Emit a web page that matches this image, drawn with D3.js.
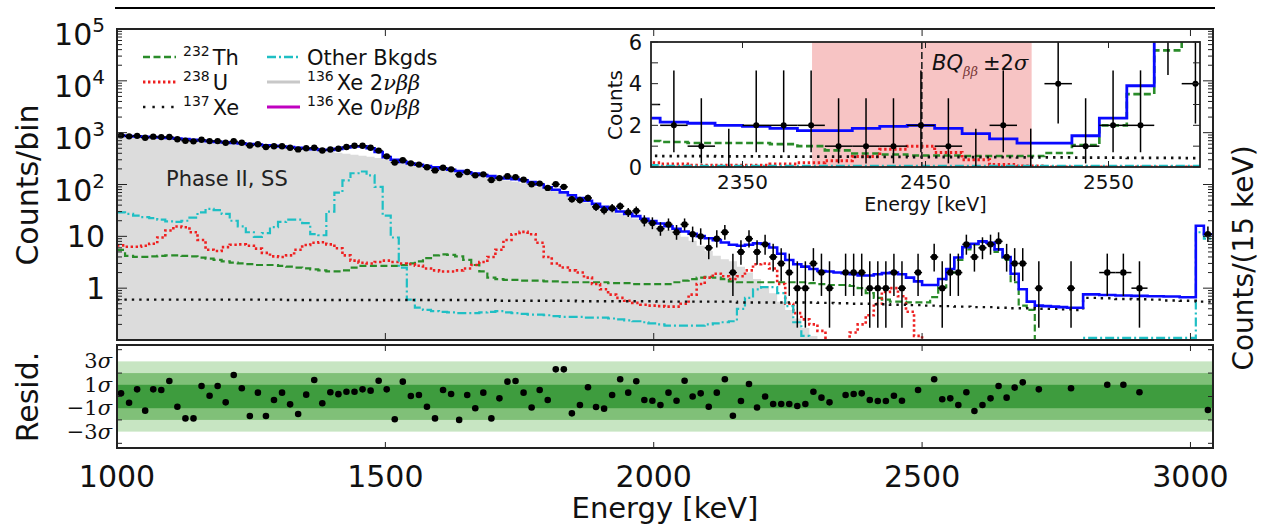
<!DOCTYPE html>
<html>
<head>
<meta charset="utf-8">
<script src="https://cdn.jsdelivr.net/npm/d3@7"></script>
<style>
  body { margin: 0; background: #fff; }
  svg { font-family: "DejaVu Sans", sans-serif; }
</style>
</head>
<body>
<div id="chart"></div>
<script>
// binning: 15 keV up to 2800, 30 keV up to 3010, then the last two 15 keV bins
var binSegments = [[1000, 2800, 15], [2800, 3010, 30], [3010, 3040, 15]];

// fitted total (blue), per bin
var totalFit = [880, 865, 850, 835, 820, 805, 790, 770, 750, 730,
  705, 685, 665, 650, 635, 620, 605, 590, 570, 555,
  540, 525, 510, 495, 480, 465, 464, 487, 519, 548,
  544, 500, 423, 338, 300, 273, 255, 240, 228, 214,
  203, 193, 182, 172, 163, 153, 145, 135, 131, 126,
  120.5, 111, 100, 88, 79, 70.6, 62, 55, 48.7, 42.3,
  37, 33.8, 30.2, 27.1, 24.5, 21.9, 19.7, 17.7, 15.7, 14.0,
  12.4, 11.2, 10.1, 9.2, 8.45, 7.6, 6.9, 6.6, 6.9, 7.3,
  7.1, 6.1, 4.6, 3.5, 2.9, 2.6, 2.35, 2.15, 2.1, 2.0,
  1.95, 1.85, 1.75, 1.75, 1.85, 1.95, 2.0, 1.85, 1.6, 1.35,
  1.15, 1.15, 1.5, 2.35, 3.9, 6.2, 7.2, 8.0, 7.5, 5.6,
  4.0, 1.9, 0.95, 0.55, 0.46, 0.45, 0.44, 0.43, 0.42, 0.42,
  0.76, 0.74, 0.72, 0.71, 0.70, 0.69, 0.67,
  16, 11];

// 136Xe 2vbb (grey fill)
var xe2nu = [838, 827, 814, 800, 786, 770, 753, 731, 711, 691,
  663, 641, 624, 613, 605, 594, 583, 571, 550, 533,
  514, 496, 480, 467, 455, 440, 424, 408, 392, 376,
  360, 344, 326, 306, 284, 264, 248, 234, 221, 207,
  196, 186, 176, 166, 157, 148, 139, 127, 120, 113,
  106, 98, 90, 82, 74, 66, 58, 51, 45, 39,
  34, 31, 27.5, 24.5, 22, 19.5, 17.3, 15.3, 13.3, 11.5,
  9.8, 8.2, 6.6, 5.2, 4.2, 3.6, 3.3, 2.6, 2.0, 1.5,
  1.1, 0.8, 0.55, 0.38, 0.26, 0.17, 0.12, 0.08, 0, 0,
  0, 0, 0, 0, 0, 0, 0, 0, 0, 0,
  0, 0, 0, 0, 0, 0, 0, 0, 0, 0,
  0, 0, 0, 0, 0, 0, 0, 0, 0, 0,
  0, 0, 0, 0, 0, 0, 0,
  0, 0];

var th232 = [5.5, 4.2, 4.0, 4.0, 4.1, 4.2, 4.3, 4.3, 4.2, 4.1,
  3.9, 3.7, 3.5, 3.3, 3.1, 3.0, 2.9, 2.8, 2.8, 2.8,
  2.7, 2.6, 2.5, 2.4, 2.3, 2.2, 2.1, 2.1, 2.2, 2.5,
  2.7, 2.7, 2.7, 2.7, 2.7, 2.8, 3.0, 3.3, 3.8, 4.3,
  4.5, 4.4, 4.1, 3.5, 2.8, 2.1, 1.6, 1.5, 1.45, 1.45,
  1.4, 1.4, 1.4, 1.35, 1.35, 1.3, 1.3, 1.3, 1.3, 1.3,
  1.3, 1.25, 1.25, 1.25, 1.2, 1.2, 1.2, 1.2, 1.2, 1.3,
  1.4, 1.5, 1.6, 1.65, 1.6, 1.5, 1.35, 1.3, 1.3, 1.3,
  1.3, 1.3, 1.3, 1.3, 1.3, 1.3, 1.25, 1.2, 1.15, 1.15,
  1.15, 1.1, 1.0, 0.8, 0.65, 0.6, 0.55, 0.55, 0.53, 0.53,
  0.53, 0.67, 1.05, 2.0, 3.5, 5.6, 7.0, 7.8, 7.2, 5.0,
  3.5, 1.3, 0.46, 0.38, 0, 0, 0, 0, 0, 0,
  0, 0, 0, 0, 0, 0, 0,
  0, 0];

var u238 = [6.7, 6.3, 6.3, 6.6, 7.2, 9.5, 13, 15.5, 15, 12,
  8.5, 5.5, 5.2, 6.2, 6.9, 7.0, 6.6, 5.8, 4.8, 4.1,
  4.0, 4.3, 5.5, 6.8, 7.5, 7.7, 7.0, 5.9, 4.3, 3.4,
  3.1, 3.0, 3.2, 3.4, 3.2, 3.0, 2.9, 2.7, 2.4, 2.2,
  2.1, 2.1, 2.2, 2.4, 2.8, 3.2, 4.0, 5.5, 8.5, 11,
  12.2, 11, 7.5, 4.0, 3.0, 2.5, 2.2, 2.0, 1.6, 1.2,
  0.95, 0.75, 0.65, 0.57, 0.52, 0.48, 0.46, 0.45, 0.44, 0.44,
  0.5, 0.75, 1.2, 1.6, 1.9, 1.7, 1.5, 1.7, 2.2, 2.9,
  3.0, 2.4, 1.2, 0.5, 0.33, 0.25, 0.2, 0.15, 0.09, 0.08,
  0.09, 0.14, 0.2, 0.3, 0.5, 0.85, 1.0, 0.7, 0.35, 0.12,
  0.05, 0, 0, 0, 0, 0, 0, 0, 0, 0,
  0, 0, 0, 0, 0, 0, 0, 0, 0, 0,
  0, 0, 0, 0, 0, 0, 0,
  0, 0];

var otherBkg = [29, 27, 25, 23.5, 22.5, 21, 19.5, 19, 20, 23,
  29, 34, 32, 27, 20, 15.5, 12, 9.8, 11.5, 15,
  19, 21, 21, 18, 11, 10.5, 30, 70, 120, 165,
  178, 150, 90, 25, 9.5, 2.5, 0.6, 0.42, 0.38, 0.36,
  0.35, 0.34, 0.33, 0.33, 0.33, 0.34, 0.35, 0.36, 0.34, 0.33,
  0.32, 0.31, 0.31, 0.3, 0.29, 0.28, 0.28, 0.28, 0.27, 0.27,
  0.27, 0.26, 0.25, 0.24, 0.23, 0.22, 0.21, 0.2, 0.19, 0.19,
  0.19, 0.19, 0.19, 0.2, 0.21, 0.22, 0.23, 0.4, 0.65, 0.95,
  1.05, 1.05, 0.8, 0.45, 0.22, 0.12, 0.08, 0.05, 0.04, 0.04,
  0.04, 0.04, 0.04, 0.04, 0.04, 0.04, 0.04, 0.04, 0.04, 0.04,
  0.04, 0.04, 0.04, 0.04, 0.04, 0.04, 0.04, 0.04, 0.04, 0.04,
  0.04, 0.04, 0.04, 0.04, 0.04, 0.04, 0.04, 0.04, 0.04, 0.04,
  0.11, 0.11, 0.11, 0.11, 0.11, 0.11, 0.11,
  12, 9];

var xe137 = [0.6, 0.6, 0.6, 0.6, 0.6, 0.6, 0.6, 0.6, 0.6, 0.6,
  0.6, 0.6, 0.6, 0.6, 0.6, 0.6, 0.6, 0.6, 0.6, 0.6,
  0.6, 0.59, 0.59, 0.59, 0.59, 0.59, 0.59, 0.59, 0.59, 0.59,
  0.59, 0.59, 0.59, 0.59, 0.59, 0.59, 0.59, 0.59, 0.59, 0.59,
  0.59, 0.59, 0.59, 0.59, 0.59, 0.59, 0.59, 0.57, 0.57, 0.57,
  0.57, 0.57, 0.57, 0.57, 0.57, 0.57, 0.57, 0.56, 0.56, 0.56,
  0.56, 0.56, 0.56, 0.56, 0.56, 0.56, 0.56, 0.55, 0.55, 0.55,
  0.55, 0.55, 0.55, 0.55, 0.55, 0.55, 0.55, 0.53, 0.53, 0.53,
  0.53, 0.53, 0.53, 0.53, 0.53, 0.53, 0.53, 0.52, 0.52, 0.51,
  0.51, 0.5, 0.5, 0.5, 0.49, 0.49, 0.48, 0.48, 0.47, 0.47,
  0.46, 0.46, 0.45, 0.45, 0.44, 0.44, 0.43, 0.43, 0.43, 0.42,
  0.42, 0.41, 0.41, 0.41, 0.40, 0.40, 0.40, 0.39, 0.39, 0.38,
  0.65, 0.64, 0.62, 0.61, 0.6, 0.58, 0.57,
  0.55, 0.55];

// observed counts per bin (0 = empty bin)
var dataCounts = [888, 849, 868, 800, 837, 821, 827, 746, 699, 680,
  729, 687, 688, 637, 681, 637, 564, 598, 530, 548,
  548, 510, 476, 499, 511, 452, 472, 491, 528, 558,
  558, 511, 451, 349, 266, 294, 256, 242, 215, 187,
  211, 196, 155, 174, 150, 157, 122, 133, 145, 139,
  124, 101, 104, 86, 101, 90, 52, 50, 55, 37,
  32, 35, 38, 29, 31, 20, 18, 14, 17, 12,
  17, 11, 10, 6, 9, 12, 2, 5, 9, 5,
  7, 4, 3, 2, 1, 1, 3, 2, 1, 0,
  2, 2, 2, 1, 1, 1, 2, 1, 0, 2,
  0, 4, 1, 2, 2, 7, 4, 6, 7, 8,
  4, 3, 3, 0, 1, 0, 0, 0, 1, 0,
  0, 2, 2, 1, 0, 0, 0,
  0, 11];

// residuals in sigma (null = no point shown)
var residuals = [0.27, -0.53, 0.61, -1.21, 0.61, 0.56, 1.32, -0.87, -1.87, -1.87,
  0.9, 0.07, 0.9, -0.5, 1.84, 0.7, -1.67, 0.33, -1.67, -0.3,
  0.33, -0.67, -1.5, 0.16, 1.41, -0.58, 0.36, 0.2, 0.41, 0.41,
  0.61, 0.5, 1.35, 0.61, -1.95, 1.27, 0.04, 0.13, -0.87, -1.87,
  0.56, 0.22, -2.0, 0.13, -1.0, 0.33, -1.87, -0.16, 1.27, 1.32,
  0.33, -0.94, 0.56, -0.3, 2.32, 2.32, -1.44, -0.73, 0.79, -0.9,
  -1.04, 0.13, 1.47, 0.33, 1.3, -0.3, -0.36, -0.73, 0.33, -0.36,
  1.35, 0, 0.27, -0.87, 0.33, 1.47, -1.64, -0.39, 1.07, -0.94,
  0, -0.64, -0.64, -0.64, -0.81, -0.64, 0.41, -0.1, -0.5, null,
  0.13, 0.22, 0.27, -0.3, -0.39, -0.39, 0.07, -0.36, null, 0.56,
  null, 1.47, -0.24, -0.16, -0.73, 0.36, -1.24, -0.73, -0.16, 0.9,
  -0.1, 0.76, 1.21, null, 0.61, null, null, null, 0.7, null,
  null, 1.0, 1.0, 0.36, null, null, null,
  null, -1.15];

// Garwood 68% intervals for small counts
var garwoodLo = [0, 0.173, 0.708, 1.367, 2.086, 2.840, 3.620, 4.419, 5.232, 6.057, 6.891, 7.734, 8.585];
var garwoodHi = [1.841, 3.300, 4.638, 5.918, 7.163, 8.382, 9.584, 10.77, 11.95, 13.11, 14.27, 15.42, 16.56];

var xTicks = [1000, 1500, 2000, 2500, 3000];
var yDecades = [1, 10, 100, 1000, 10000, 100000];
var insetXTicks = [2350, 2450, 2550];
var insetYTicks = [0, 2, 4, 6];
var residLabels = [3, 1, -1, -3];
var qbb = 2448, qbbWindow = 60;

var bins = [];
binSegments.forEach(function (s) {
  for (var e = s[0]; e < s[1]; e += s[2]) bins.push({ lo: e, hi: e + s[2], mid: e + s[2] / 2 });
});

function errLo(n) { return n < garwoodLo.length ? garwoodLo[n] : n - Math.sqrt(n); }
function errHi(n) { return n < garwoodHi.length ? garwoodHi[n] : n + Math.sqrt(n) + 1; }

var W = 1264, H = 527;
var L = 117, R = 1213, T = 29, B = 340;
var rT = 345, rB = 448;
var iL = 651, iR = 1200, iT = 42, iB = 167;

var colTh = "#2a8c2a", colU = "#ee2020", colOther = "#1fbfc4", colXe = "#111",
    colFit = "#0a0aff", colGrey = "#dcdcdc", col0nu = "#c000c0";

var svg = d3.select("#chart").append("svg").attr("width", W).attr("height", H);

var x = d3.scaleLinear().domain([1000, 3042]).range([L, R]);
var y = d3.scaleLog().domain([0.1, 1e5]).range([B, T]);
var yr = d3.scaleLinear().domain([-4.4, 4.4]).range([rB, rT]);
var xi = d3.scaleLinear().domain([2300, 2600]).range([iL, iR]);
var yi = d3.scaleLinear().domain([0, 6]).range([iB, iT]);

var defs = svg.append("defs");
defs.append("clipPath").attr("id", "clipMain").append("rect").attr("x", L).attr("y", T).attr("width", R - L).attr("height", B - T);
defs.append("clipPath").attr("id", "clipRes").append("rect").attr("x", L).attr("y", rT).attr("width", R - L).attr("height", rB - rT);
defs.append("clipPath").attr("id", "clipInset").append("rect").attr("x", iL).attr("y", iT).attr("width", iR - iL).attr("height", iB - iT);

// line across the top of the figure
svg.append("line").attr("x1", 115).attr("x2", 1215).attr("y1", 8).attr("y2", 8)
  .attr("stroke", "#000").attr("stroke-width", 2);

function stepPoints(arr, sub) {
  var pts = sub.map(function (i) { return { e: bins[i].lo, v: arr[i] }; });
  var last = sub[sub.length - 1];
  pts.push({ e: bins[last].hi, v: arr[last] });
  return pts;
}
var allIdx = d3.range(bins.length);
function yLog(v) { return Math.min(v > 0 ? y(v) : B + 40, B + 40); }

// ---------- main panel ----------
var main = svg.append("g").attr("clip-path", "url(#clipMain)");

main.append("path")
  .datum(stepPoints(xe2nu, allIdx))
  .attr("fill", colGrey)
  .attr("d", d3.area().curve(d3.curveStepAfter)
    .x(function (d) { return x(d.e); })
    .y0(B)
    .y1(function (d) { return Math.min(yLog(d.v), B); }));

var comps = [
  { arr: th232, color: colTh, dash: "7,3.5", w: 2.2 },
  { arr: u238, color: colU, dash: "2.4,2.6", w: 2.6 },
  { arr: otherBkg, color: colOther, dash: "9,3,2,3", w: 2.2 },
  { arr: xe137, color: colXe, dash: "2.4,5", w: 2.4 }
];
var stepLine = d3.line().curve(d3.curveStepAfter)
  .x(function (d) { return x(d.e); })
  .y(function (d) { return yLog(d.v); });

comps.forEach(function (c) {
  main.append("path").datum(stepPoints(c.arr, allIdx))
    .attr("fill", "none").attr("stroke", c.color).attr("stroke-width", c.w)
    .attr("stroke-dasharray", c.dash).attr("d", stepLine);
});

main.append("path").datum(stepPoints(totalFit, allIdx))
  .attr("fill", "none").attr("stroke", colFit).attr("stroke-width", 2.6).attr("d", stepLine);

// data points
var pts = allIdx.filter(function (i) { return dataCounts[i] > 0; });
var pg = main.append("g");
pts.forEach(function (i) {
  var n = dataCounts[i], b = bins[i];
  pg.append("line").attr("x1", x(b.mid)).attr("x2", x(b.mid))
    .attr("y1", yLog(errHi(n))).attr("y2", yLog(errLo(n)))
    .attr("stroke", "#000").attr("stroke-width", 1.5);
  pg.append("line").attr("x1", x(b.lo)).attr("x2", x(b.hi))
    .attr("y1", y(n)).attr("y2", y(n))
    .attr("stroke", "#000").attr("stroke-width", 1.5);
  pg.append("circle").attr("cx", x(b.mid)).attr("cy", y(n)).attr("r", 3.2).attr("fill", "#000");
});

// frame + ticks for main
svg.append("rect").attr("x", L).attr("y", T).attr("width", R - L).attr("height", B - T)
  .attr("fill", "none").attr("stroke", "#222").attr("stroke-width", 2);

var tk = svg.append("g").attr("stroke", "#222").attr("stroke-width", 1);
xTicks.forEach(function (t) {
  tk.append("line").attr("x1", x(t)).attr("x2", x(t)).attr("y1", B).attr("y2", B - 7);
  tk.append("line").attr("x1", x(t)).attr("x2", x(t)).attr("y1", T).attr("y2", T + 7);
});
y.ticks().forEach(function (t) {
  var major = yDecades.indexOf(t) >= 0 || t === 0.1;
  var len = major ? 10 : 5;
  tk.append("line").attr("x1", L).attr("x2", L + len).attr("y1", y(t)).attr("y2", y(t));
  tk.append("line").attr("x1", R).attr("x2", R - len).attr("y1", y(t)).attr("y2", y(t));
});

// y tick labels
yDecades.forEach(function (t) {
  var p = Math.round(Math.log10(t));
  var txt = svg.append("text").attr("x", 105).attr("text-anchor", "end")
    .attr("font-size", 30).attr("fill", "#111");
  if (p <= 1) {
    txt.attr("y", y(t) + 11).text(p === 0 ? "1" : "10");
  } else {
    txt.attr("y", y(t) + 16);
    txt.append("tspan").text("10");
    txt.append("tspan").attr("font-size", 20).attr("dy", -13).text(p);
  }
});

svg.append("text").attr("transform", "translate(38,185) rotate(-90)")
  .attr("text-anchor", "middle").attr("font-size", 30).attr("fill", "#111").text("Counts/bin");
svg.append("text").attr("transform", "translate(1253,258) rotate(-90)")
  .attr("text-anchor", "middle").attr("font-size", 28).attr("fill", "#111").text("Counts/(15 keV)");

svg.append("text").attr("x", 166).attr("y", 186).attr("font-size", 21).attr("fill", "#222").text("Phase II, SS");

// legend
var legend = svg.append("g");
var legItems = [
  { col: 0, row: 0, color: colTh, dash: "7,3.5", w: 2.4, iso: "232", name: "Th" },
  { col: 0, row: 1, color: colU, dash: "2.4,2.6", w: 2.8, iso: "238", name: "U" },
  { col: 0, row: 2, color: colXe, dash: "2.4,7", w: 2.6, iso: "137", name: "Xe" },
  { col: 1, row: 0, color: colOther, dash: "9,3,2,3", w: 2.4, iso: null, name: "Other Bkgds" },
  { col: 1, row: 1, color: "#c8c8c8", dash: null, w: 3, iso: "136", name: "Xe 2", greek: "νββ" },
  { col: 1, row: 2, color: col0nu, dash: null, w: 3, iso: "136", name: "Xe 0", greek: "νββ" }
];
legItems.forEach(function (d) {
  var lx = d.col === 0 ? 143 : 267, ly = 57 + d.row * 25;
  legend.append("line").attr("x1", lx).attr("x2", lx + 33).attr("y1", ly).attr("y2", ly)
    .attr("stroke", d.color).attr("stroke-width", d.w).attr("stroke-dasharray", d.dash);
  var t = legend.append("text").attr("x", lx + 40).attr("y", ly + 8).attr("font-size", 21).attr("fill", "#111");
  if (d.iso) {
    t.append("tspan").attr("font-size", 14).attr("dy", -9).text(d.iso);
    t.append("tspan").attr("dy", 9).attr("dx", 3).text(d.name);
  } else {
    t.append("tspan").text(d.name);
  }
  if (d.greek) {
    t.append("tspan").attr("font-family", "DejaVu Serif").attr("font-style", "italic").text(d.greek);
  }
});

// ---------- residual panel ----------
var bands = [[3, "#c7e5c2"], [2, "#80c078"], [1, "#3e9c3e"]];
var res = svg.append("g").attr("clip-path", "url(#clipRes)");
bands.forEach(function (b) {
  res.append("rect").attr("x", L).attr("width", R - L)
    .attr("y", yr(b[0])).attr("height", yr(-b[0]) - yr(b[0])).attr("fill", b[1]);
});
allIdx.forEach(function (i) {
  if (residuals[i] === null) return;
  res.append("circle").attr("cx", x(bins[i].mid)).attr("cy", yr(residuals[i])).attr("r", 3.3).attr("fill", "#000");
});
svg.append("rect").attr("x", L).attr("y", rT).attr("width", R - L).attr("height", rB - rT)
  .attr("fill", "none").attr("stroke", "#222").attr("stroke-width", 2);
xTicks.forEach(function (t) {
  tk.append("line").attr("x1", x(t)).attr("x2", x(t)).attr("y1", rB).attr("y2", rB - 6);
  tk.append("line").attr("x1", x(t)).attr("x2", x(t)).attr("y1", rT).attr("y2", rT + 6);
});
[-4, -2, 0, 2, 4].forEach(function (t) {
  tk.append("line").attr("x1", L).attr("x2", L + 5).attr("y1", yr(t)).attr("y2", yr(t));
  tk.append("line").attr("x1", R).attr("x2", R - 5).attr("y1", yr(t)).attr("y2", yr(t));
});
residLabels.forEach(function (t) {
  var txt = svg.append("text").attr("x", 112).attr("y", yr(t) + 7).attr("text-anchor", "end")
    .attr("font-family", "DejaVu Serif").attr("font-size", 21).attr("fill", "#111");
  txt.append("tspan").text((t < 0 ? "\u2212" : "") + Math.abs(t));
  txt.append("tspan").attr("font-style", "italic").text("σ");
});
svg.append("text").attr("transform", "translate(38,397) rotate(-90)")
  .attr("text-anchor", "middle").attr("font-size", 30).attr("fill", "#111").text("Resid.");

xTicks.forEach(function (t) {
  svg.append("text").attr("x", x(t)).attr("y", 487).attr("text-anchor", "middle")
    .attr("font-size", 30).attr("fill", "#111").text(t);
});
svg.append("text").attr("x", (L + R) / 2).attr("y", 518).attr("text-anchor", "middle")
  .attr("font-size", 29).attr("fill", "#111").text("Energy [keV]");

// ---------- inset ----------
svg.append("rect").attr("x", iL).attr("y", iT).attr("width", iR - iL).attr("height", iB - iT).attr("fill", "#fff");
var ins = svg.append("g").attr("clip-path", "url(#clipInset)");
ins.append("rect").attr("x", xi(qbb - qbbWindow)).attr("width", xi(qbb + qbbWindow) - xi(qbb - qbbWindow))
  .attr("y", iT).attr("height", iB - iT).attr("fill", "#f7c4c4");

var inIdx = allIdx.filter(function (i) { return bins[i].hi > 2300 && bins[i].lo < 2600; });
ins.append("path").datum(stepPoints(xe2nu, inIdx)).attr("fill", colGrey)
  .attr("d", d3.area().curve(d3.curveStepAfter)
    .x(function (d) { return xi(d.e); }).y0(iB).y1(function (d) { return yi(d.v); }));
var stepIn = d3.line().curve(d3.curveStepAfter)
  .x(function (d) { return xi(d.e); })
  .y(function (d) { return yi(d.v); });
comps.forEach(function (c) {
  ins.append("path").datum(stepPoints(c.arr, inIdx))
    .attr("fill", "none").attr("stroke", c.color).attr("stroke-width", c.w + 0.4)
    .attr("stroke-dasharray", c.dash).attr("d", stepIn);
});
ins.append("path").datum(stepPoints(totalFit, inIdx))
  .attr("fill", "none").attr("stroke", colFit).attr("stroke-width", 2.8).attr("d", stepIn);
ins.append("line").attr("x1", xi(qbb)).attr("x2", xi(qbb)).attr("y1", iT).attr("y2", iB)
  .attr("stroke", "#222").attr("stroke-width", 1.6).attr("stroke-dasharray", "7,3");

inIdx.forEach(function (i) {
  var n = dataCounts[i], b = bins[i];
  ins.append("line").attr("x1", xi(b.mid)).attr("x2", xi(b.mid))
    .attr("y1", yi(errHi(n))).attr("y2", yi(errLo(n))).attr("stroke", "#000").attr("stroke-width", 1.5);
  if (n > 0) {
    ins.append("line").attr("x1", xi(b.lo)).attr("x2", xi(b.hi)).attr("y1", yi(n)).attr("y2", yi(n))
      .attr("stroke", "#000").attr("stroke-width", 1.5);
    ins.append("circle").attr("cx", xi(b.mid)).attr("cy", yi(n)).attr("r", 3).attr("fill", "#000");
  }
});

var bq = svg.append("text").attr("x", 932).attr("y", 70).attr("font-size", 21).attr("fill", "#111");
bq.append("tspan").attr("font-style", "italic").text("BQ");
bq.append("tspan").attr("font-family", "DejaVu Serif").attr("font-style", "italic")
  .attr("font-size", 13).attr("dy", 6).attr("fill", "#7a3a3a").text("ββ");
bq.append("tspan").attr("dy", -6).attr("dx", 5).text("±2");
bq.append("tspan").attr("font-family", "DejaVu Serif").attr("font-style", "italic").text("σ");

svg.append("rect").attr("x", iL).attr("y", iT).attr("width", iR - iL).attr("height", iB - iT)
  .attr("fill", "none").attr("stroke", "#222").attr("stroke-width", 1.8);
insetXTicks.forEach(function (t) {
  tk.append("line").attr("x1", xi(t)).attr("x2", xi(t)).attr("y1", iB).attr("y2", iB - 6);
  tk.append("line").attr("x1", xi(t)).attr("x2", xi(t)).attr("y1", iT).attr("y2", iT + 6);
  svg.append("text").attr("x", xi(t)).attr("y", 189).attr("text-anchor", "middle")
    .attr("font-size", 20).attr("fill", "#111").text(t);
});
d3.range(0, 7).forEach(function (t) {
  tk.append("line").attr("x1", iL).attr("x2", iL + 7).attr("y1", yi(t)).attr("y2", yi(t));
  tk.append("line").attr("x1", iR).attr("x2", iR - 7).attr("y1", yi(t)).attr("y2", yi(t));
});
insetYTicks.forEach(function (t) {
  svg.append("text").attr("x", 642).attr("y", yi(t) + 7.5).attr("text-anchor", "end")
    .attr("font-size", 21).attr("fill", "#111").text(t);
});
svg.append("text").attr("x", (iL + iR) / 2).attr("y", 211).attr("text-anchor", "middle")
  .attr("font-size", 19).attr("fill", "#111").text("Energy [keV]");
svg.append("text").attr("transform", "translate(622,105) rotate(-90)")
  .attr("text-anchor", "middle").attr("font-size", 20).attr("fill", "#111").text("Counts");
tk.raise();
</script>
</body>
</html>
